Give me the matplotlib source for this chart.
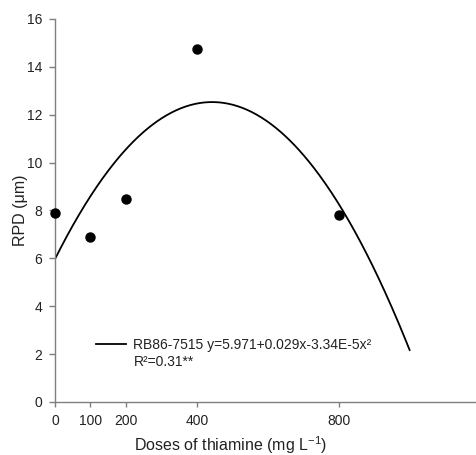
import numpy as np
import matplotlib
matplotlib.use("Agg")
import matplotlib.pyplot as plt

plt.rcParams['font.family'] = ['Liberation Sans', 'DejaVu Sans']
plt.rcParams['mathtext.fontset'] = 'custom'
plt.rcParams['mathtext.rm'] = 'Liberation Sans'
plt.rcParams['mathtext.it'] = 'Liberation Sans:italic'
plt.rcParams['mathtext.bf'] = 'Liberation Sans:bold'

# Observed data
doses = [0, 100, 200, 400, 800]
rpd = [7.88, 6.9, 8.49, 14.73, 7.81]

# Fitted quadratic (as drawn): intercept, linear, quadratic
fit_coefs = [5.971, 0.0296, -3.34e-5]
fit_range = [0, 1000]

xticks = [0, 100, 200, 400, 800]
yticks = [0, 2, 4, 6, 8, 10, 12, 14, 16]
legend_label = "RB86-7515 y=5.971+0.029x-3.34E-5x\u00b2"
r2_label = "R\u00b2=0.31**"

fig = plt.figure(figsize=(4.77, 4.55), dpi=100)
ax = fig.add_axes([0.1153, 0.1165, 0.8847, 0.8418])

xs = np.linspace(fit_range[0], fit_range[1], 300)
ys = np.polyval(fit_coefs[::-1], xs)
line, = ax.plot(xs, ys, color='black', lw=1.3, label=legend_label)
ax.plot(doses, rpd, 'o', color='black', ms=6.5, clip_on=False, zorder=5)

ax.set_xlim(0, 1190)
ax.set_ylim(0, 16)
ax.set_xticks(xticks)
ax.set_yticks(yticks)

gray = '#7f7f7f'
tc = '#222222'
for s in ['top', 'right']:
    ax.spines[s].set_visible(False)
for s in ['left', 'bottom']:
    ax.spines[s].set_color(gray)
    ax.spines[s].set_linewidth(1.0)
ax.tick_params(axis='both', direction='out', color=gray, width=1.0,
               labelsize=10, labelcolor=tc)
ax.tick_params(axis='y', length=4.5, pad=4.5)
ax.tick_params(axis='x', length=3.5, pad=5.5)

ax.set_xlabel("Doses of thiamine (mg L$^{-1}$)", fontsize=11.5, color=tc, va='baseline')
ax.set_ylabel("RPD (\u03bcm)", fontsize=11.5, color=tc)
ax.xaxis.set_label_coords(0.415, -0.129)
ax.yaxis.set_label_coords(-0.064, 0.5)

leg = ax.legend(handles=[line], loc='lower left', bbox_to_anchor=(0.096, 0.130),
                frameon=False, fontsize=10, handlelength=2.23, handletextpad=0.5,
                borderaxespad=0, borderpad=0)
for t in leg.get_texts():
    t.set_color(tc)
ax.text(0.187, 0.104, r2_label, transform=ax.transAxes, fontsize=10,
        color=tc, va='center', ha='left')

fig.savefig("out.png", dpi=100)
